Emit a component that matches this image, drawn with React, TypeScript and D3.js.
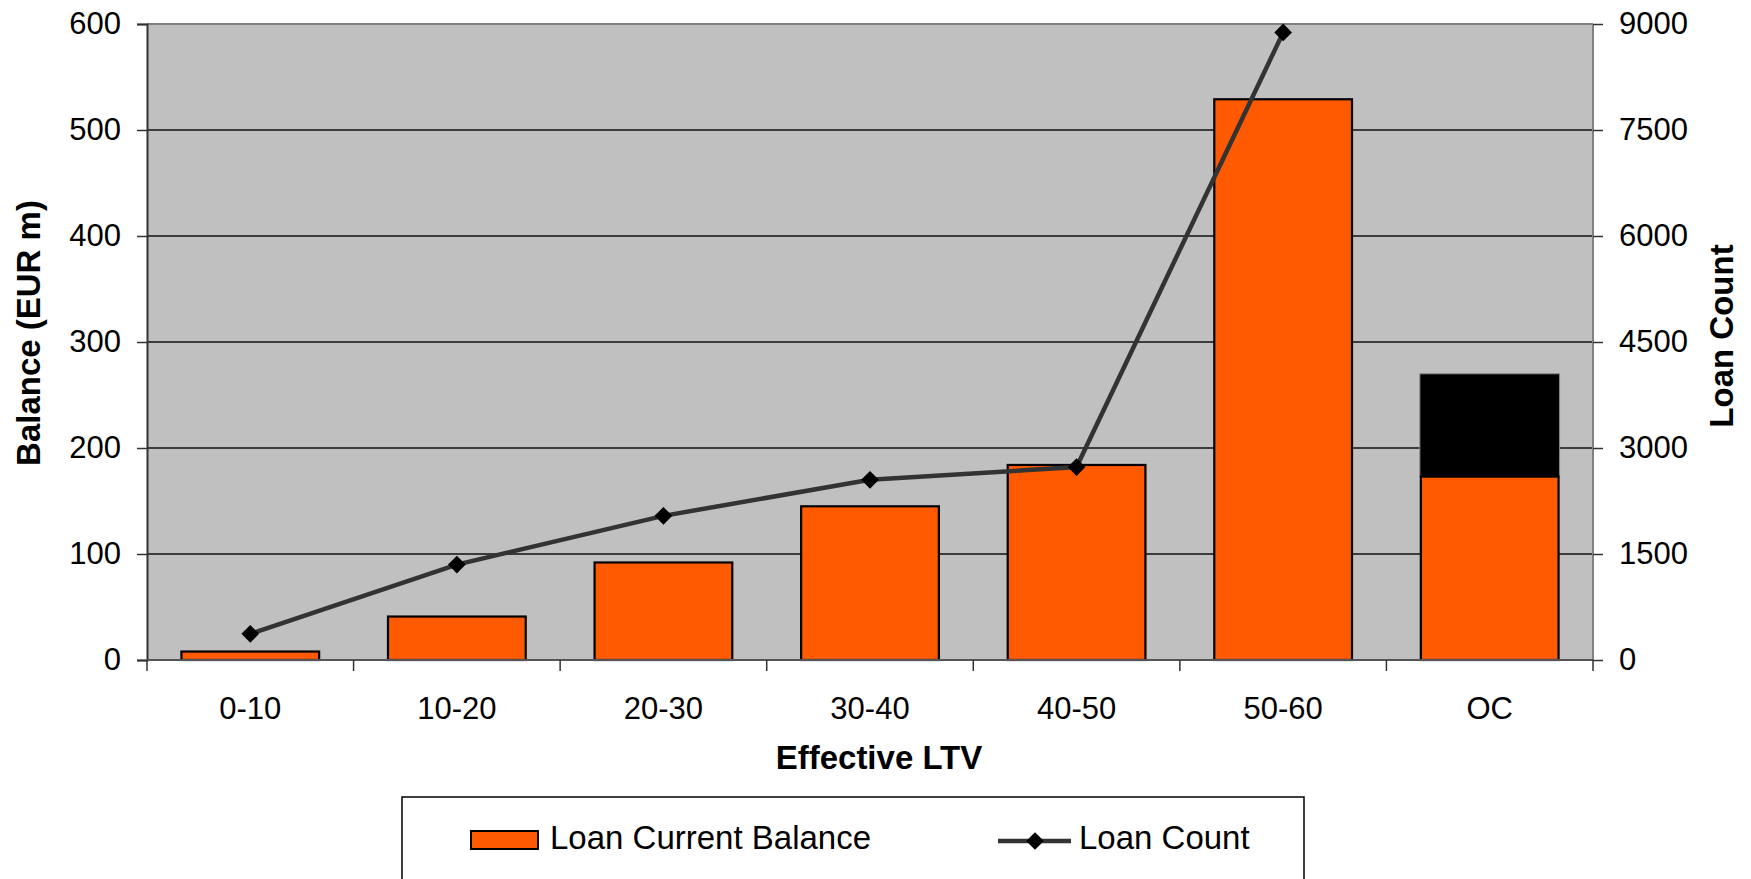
import { useEffect, useRef } from "react"
import * as d3 from "d3"

const categories = ["0-10", "10-20", "20-30", "30-40", "40-50", "50-60", "OC"]
const balance = [8, 41, 92, 145, 184, 529, 173]
const ocExtra = [0, 0, 0, 0, 0, 0, 97]
const loanCount = [370, 1350, 2040, 2550, 2730, 8880]
const balanceTicks = [0, 100, 200, 300, 400, 500, 600]
const countTicks = [0, 1500, 3000, 4500, 6000, 7500, 9000]

const W = 1751
const H = 879
const FONT = "'Liberation Sans', Arial, sans-serif"

const App = () => {
  const ref = useRef<SVGSVGElement>(null)

  useEffect(() => {
    document.body.style.margin = "0"
    const svg = d3.select(ref.current)
    svg.selectAll("*").remove()

    const margin = { top: 24, right: 158, bottom: 219, left: 147 }
    const width = W - margin.left - margin.right
    const height = H - margin.top - margin.bottom

    const g = svg.append("g").attr("transform", `translate(${margin.left},${margin.top})`)

    const x = d3.scaleBand().domain(categories).range([0, width]).padding(0)
    const y = d3.scaleLinear().domain([0, 600]).range([height, 0])
    const y2 = d3.scaleLinear().domain([0, 9000]).range([height, 0])

    // plot background
    g.append("rect")
      .attr("width", width)
      .attr("height", height)
      .attr("fill", "#c0c0c0")

    // gridlines
    g.selectAll(".grid")
      .data(balanceTicks.slice(1, -1))
      .enter()
      .append("line")
      .attr("x1", 0)
      .attr("x2", width)
      .attr("y1", (d) => y(d))
      .attr("y2", (d) => y(d))
      .attr("stroke", "#111")
      .attr("stroke-width", 1.3)

    // frame top/right
    g.append("line").attr("x1", 0).attr("x2", width).attr("y1", 0).attr("y2", 0)
      .attr("stroke", "#808080").attr("stroke-width", 2)
    g.append("line").attr("x1", width).attr("x2", width).attr("y1", 0).attr("y2", height)
      .attr("stroke", "#808080").attr("stroke-width", 2)

    const barW = x.bandwidth() * (2 / 3)
    const barX = (c: string) => x(c)! + (x.bandwidth() - barW) / 2

    // stacked extra (black) segment
    g.selectAll(".extra")
      .data(categories.filter((_, i) => ocExtra[i] > 0))
      .enter()
      .append("rect")
      .attr("x", (c) => barX(c) - 1)
      .attr("width", barW + 2)
      .attr("y", (c) => {
        const i = categories.indexOf(c)
        return y(balance[i] + ocExtra[i])
      })
      .attr("height", (c) => {
        const i = categories.indexOf(c)
        return y(balance[i]) - y(balance[i] + ocExtra[i])
      })
      .attr("fill", "#000")
      .attr("stroke", "#888")
      .attr("stroke-width", 1)

    // balance bars
    g.selectAll(".bar")
      .data(categories)
      .enter()
      .append("rect")
      .attr("x", (c) => barX(c))
      .attr("width", barW)
      .attr("y", (_, i) => y(balance[i]))
      .attr("height", (_, i) => height - y(balance[i]))
      .attr("fill", "#ff5a00")
      .attr("stroke", "#000")
      .attr("stroke-width", 2.2)

    // left axis
    const left = g.append("g").call(d3.axisLeft(y).tickValues(balanceTicks).tickSize(10).tickPadding(16).tickFormat(d3.format("d")))
    left.select(".domain").attr("stroke", "#333").attr("stroke-width", 2)
    left.selectAll("line").attr("stroke", "#333").attr("stroke-width", 1.5)
    left.selectAll("text").attr("font-family", FONT).attr("font-size", 31).attr("fill", "#000")

    // right axis
    const right = g.append("g").attr("transform", `translate(${width},0)`)
      .call(d3.axisRight(y2).tickValues(countTicks).tickSize(10).tickPadding(16).tickFormat(d3.format("d")))
    right.select(".domain").remove()
    right.selectAll("line").attr("stroke", "#333").attr("stroke-width", 1.5)
    right.selectAll("text").attr("font-family", FONT).attr("font-size", 31).attr("fill", "#000")

    // bottom axis
    g.append("line").attr("x1", 0).attr("x2", width).attr("y1", height).attr("y2", height)
      .attr("stroke", "#555").attr("stroke-width", 2)
    const bounds = categories.map((c) => x(c)!).concat([width])
    g.selectAll(".xtick")
      .data(bounds)
      .enter()
      .append("line")
      .attr("x1", (d) => d)
      .attr("x2", (d) => d)
      .attr("y1", height)
      .attr("y2", height + 11)
      .attr("stroke", "#333")
      .attr("stroke-width", 1.5)
    g.selectAll(".xlabel")
      .data(categories)
      .enter()
      .append("text")
      .text((d) => d)
      .attr("x", (c) => x(c)! + x.bandwidth() / 2)
      .attr("y", height + 59)
      .attr("text-anchor", "middle")
      .attr("font-family", FONT)
      .attr("font-size", 31)

    // loan count line
    const pts = loanCount.map((v, i) => [x(categories[i])! + x.bandwidth() / 2, y2(v)] as [number, number])
    g.append("path")
      .attr("d", d3.line()(pts))
      .attr("fill", "none")
      .attr("stroke", "#333")
      .attr("stroke-width", 4.5)
    const diamond = d3.symbol().type(d3.symbolDiamond2).size(200)
    g.selectAll(".marker")
      .data(pts)
      .enter()
      .append("path")
      .attr("d", diamond()!)
      .attr("transform", (p) => `translate(${p[0]},${p[1]})`)
      .attr("fill", "#000")

    // axis titles
    svg.append("text")
      .text("Balance (EUR m)")
      .attr("transform", `translate(40,${margin.top + height / 2 - 9}) rotate(-90)`)
      .attr("text-anchor", "middle")
      .attr("font-family", FONT)
      .attr("font-weight", "bold")
      .attr("font-size", 33)
    svg.append("text")
      .text("Loan Count")
      .attr("transform", `translate(1733,${margin.top + height / 2 - 6}) rotate(-90)`)
      .attr("text-anchor", "middle")
      .attr("font-family", FONT)
      .attr("font-weight", "bold")
      .attr("font-size", 33)
    svg.append("text")
      .text("Effective LTV")
      .attr("x", margin.left + width / 2 + 9)
      .attr("y", 769)
      .attr("text-anchor", "middle")
      .attr("font-family", FONT)
      .attr("font-weight", "bold")
      .attr("font-size", 33)

    // legend
    const lg = svg.append("g")
    lg.append("rect")
      .attr("x", 402)
      .attr("y", 797)
      .attr("width", 902)
      .attr("height", 120)
      .attr("fill", "#fff")
      .attr("stroke", "#000")
      .attr("stroke-width", 1.5)
    lg.append("rect")
      .attr("x", 471)
      .attr("y", 831)
      .attr("width", 67)
      .attr("height", 18)
      .attr("fill", "#ff5a00")
      .attr("stroke", "#000")
      .attr("stroke-width", 2)
    lg.append("text")
      .text("Loan Current Balance")
      .attr("x", 550)
      .attr("y", 849)
      .attr("font-family", FONT)
      .attr("font-size", 33)
    lg.append("line")
      .attr("x1", 998)
      .attr("x2", 1071)
      .attr("y1", 841)
      .attr("y2", 841)
      .attr("stroke", "#333")
      .attr("stroke-width", 4.5)
    lg.append("path")
      .attr("d", diamond()!)
      .attr("transform", "translate(1035,841)")
      .attr("fill", "#000")
    lg.append("text")
      .text("Loan Count")
      .attr("x", 1079)
      .attr("y", 849)
      .attr("font-family", FONT)
      .attr("font-size", 33)
  }, [])

  return <svg ref={ref} width={W} height={H} style={{ display: "block", background: "#fff" }} />
}

export default App
